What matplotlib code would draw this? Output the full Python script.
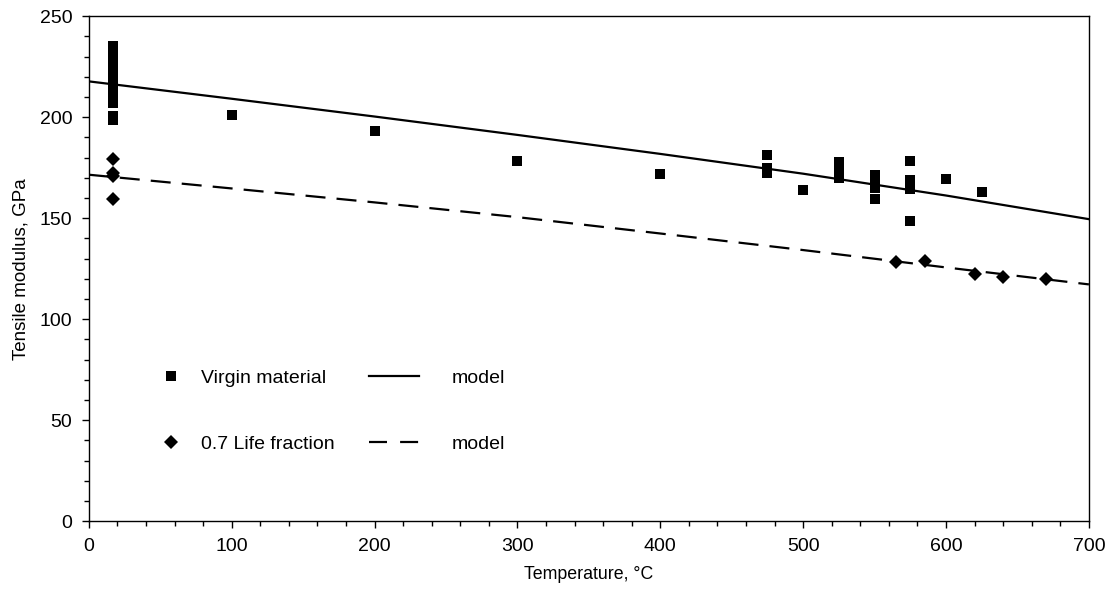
import numpy as np
import matplotlib
matplotlib.use("Agg")
import matplotlib.pyplot as plt
from matplotlib.lines import Line2D

plt.rcParams['font.family'] = ['Liberation Sans', 'DejaVu Sans']

# Virgin material measurements (temperature in C, modulus in GPa)
virgin_temp = [17] * 30 + [100, 200, 300, 400,
                           475, 475, 475, 500,
                           525, 525, 525, 525, 525,
                           550, 550, 550, 550,
                           575, 575, 575, 575, 575, 575,
                           600, 625]
virgin_mod = [235, 234, 233, 232, 231, 230, 229, 228, 227, 226,
              225, 224, 223, 222, 221, 220, 219, 218, 217, 216,
              215, 214, 213, 212, 211, 210, 208, 207, 200.5, 198.5,
              201, 193.3, 178.5, 171.7,
              181.4, 174.9, 172.4, 164.1,
              178, 176, 174, 172, 170,
              171.6, 166.5, 165, 159.3,
              178.4, 169, 167.5, 165.5, 164.5, 148.4,
              169.6, 163]

# 0.7 life fraction measurements
aged_temp = [17, 17, 17, 17, 565, 585, 620, 640, 670]
aged_mod = [179.5, 172.3, 170.8, 159.5, 128.1, 129.0, 122.5, 120.9, 119.9]

# model curves
model_temp = [0, 100, 200, 300, 400, 500, 600, 700]
model_virgin = [217.7, 209.1, 200.3, 191.2, 181.8, 172.0, 161.2, 149.5]
model_aged = [171.5, 164.7, 157.8, 150.5, 142.4, 134.2, 125.6, 117.2]

fig = plt.figure(figsize=(11.10, 5.97), dpi=100)
ax = fig.add_axes([0.080, 0.127, 0.901, 0.846])

ax.plot(model_temp, model_virgin, color="black", lw=1.6, zorder=2)
ax.plot(model_temp, model_aged, color="black", lw=1.6, dashes=(9, 5), zorder=2)
ax.plot(virgin_temp, virgin_mod, "s", color="black", ms=6.7, mew=0, zorder=3)
ax.plot(aged_temp, aged_mod, "D", color="black", ms=6.8, mew=0, zorder=3)

ax.set_xlim(0, 700)
ax.set_ylim(0, 250)
ax.set_xticks(np.arange(0, 701, 100))
ax.set_xticks(np.arange(0, 701, 20), minor=True)
ax.set_yticks(np.arange(0, 251, 50))
ax.set_yticks(np.arange(0, 251, 10), minor=True)
ax.tick_params(which="major", length=5, width=1, labelsize=14, pad=7, direction="out")
ax.tick_params(which="minor", length=3.5, width=1, direction="out")
for s in ax.spines.values():
    s.set_linewidth(1)

ax.set_xlabel("Temperature, °C", fontsize=12.8, labelpad=8)
ax.set_ylabel("Tensile modulus, GPa", fontsize=13.5, labelpad=7)

# legend: markers column and model lines column
h_pts = [Line2D([], [], ls="none", marker="s", color="black", ms=6.7, mew=0),
         Line2D([], [], ls="none", marker="D", color="black", ms=6.8, mew=0)]
h_lines = [Line2D([], [], color="black", lw=1.6),
           Line2D([], [], color="black", lw=1.6, dashes=(8.1, 5.9))]
leg1 = ax.legend(h_pts, ["Virgin material", "0.7 Life fraction"], loc="center left",
                 bbox_to_anchor=(51, 54.4), bbox_transform=ax.transData,
                 frameon=False, fontsize=14, handlelength=1.0, handletextpad=1.0,
                 borderpad=0, borderaxespad=0, labelspacing=2.5)
ax.add_artist(leg1)
ax.legend(h_lines, ["model", "model"], loc="center left",
          bbox_to_anchor=(196, 54.4), bbox_transform=ax.transData,
          frameon=False, fontsize=14, handlelength=2.57, handletextpad=1.68,
          borderpad=0, borderaxespad=0, labelspacing=2.5)

fig.savefig("out.png", dpi=100)
